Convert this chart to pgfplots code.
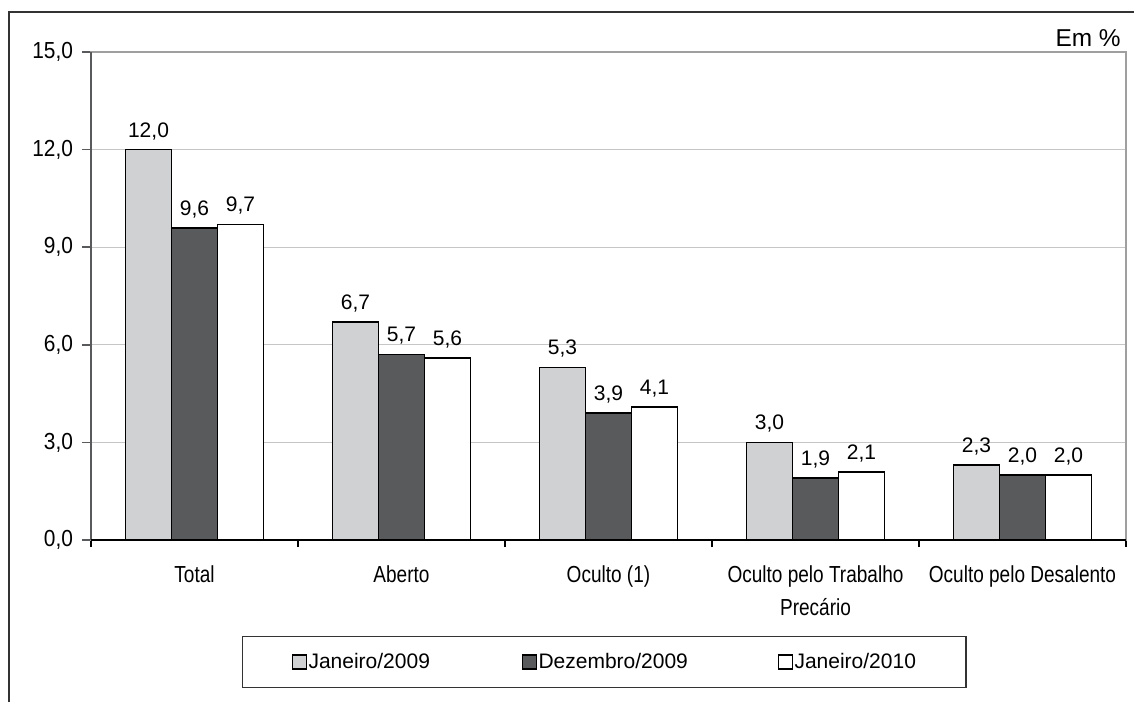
\documentclass[border=0pt]{standalone}
\usepackage{fontspec}
\setmainfont{Liberation Sans}
\newfontfamily\narrowfont{Liberation Sans}[FakeStretch=0.82]
\newfontfamily\semifont{Liberation Sans}[FakeStretch=0.9]
\usepackage{pgfplots}
\pgfplotsset{compat=1.18}
\definecolor{lg}{RGB}{208,209,211}
\definecolor{dg}{RGB}{89,90,92}
\pgfkeys{/pgf/number format/.cd, fixed, fixed zerofill, precision=1, use comma, assume math mode=true}
\newcommand{\catfont}{\narrowfont\fontsize{11.6}{16.5}\selectfont}
\newcommand{\yfont}{\semifont\fontsize{11.6}{13.9}\selectfont}
\newcommand{\lblfont}{\fontsize{10.5}{12.6}\selectfont}
\begin{document}
\begin{tikzpicture}
\useasboundingbox (0,0) rectangle (567pt,351pt);
\draw[line width=1pt, black!80] (4.5pt,0) -- (4.5pt,345pt) -- (567pt,345pt);
\begin{axis}[
  at={(45.5pt,81pt)}, anchor=south west,
  scale only axis, width=517.5pt, height=244pt,
  ybar=0pt, bar width=23pt,
  xmin=-0.5, xmax=4.5, ymin=0, ymax=15,
  ytick={0,3,6,9,12,15},
  xtick={0,1,2,3,4},
  xticklabels={Total, Aberto, Oculto (1), {Oculto pelo Trabalho\\Precário}, Oculto pelo Desalento},
  minor xtick={-0.5,0.5,1.5,2.5,3.5,4.5},
  tick pos=left,
  tick align=outside,
  major tick length=4.5pt,
  minor tick length=3.5pt,
  major x tick style={draw=none},
  minor x tick style={draw=black, line width=0.75pt},
  ytick style={draw=dg, line width=0.75pt},
  xticklabel style={font=\catfont, align=center, text depth=0pt, yshift=-5pt},
  yticklabel style={font=\yfont, xshift=-1pt},
  axis line style={draw=gray!75, line width=0.75pt},
  ymajorgrids, major grid style={draw=gray!45, line width=0.6pt},
  nodes near coords,
  every node near coord/.append style={font=\lblfont, text=black, inner sep=0pt, yshift=4.5pt},
  clip=false,
  legend columns=3,
  legend style={at={(0.4957,-0.25)}, anchor=center, draw=black!80, line width=0.6pt,
    font=\lblfont, inner xsep=25pt, inner ysep=8pt,
    nodes={inner sep=0pt}},
  legend image code/.code={\draw[#1, line width=0.6pt] (0pt,-3.5pt) rectangle (7pt,3.5pt);},
]
\addplot[fill=lg, draw=black, line width=0.9pt] coordinates {(0,12.0) (1,6.7) (2,5.3) (3,3.0) (4,2.3)};
\addplot[fill=dg, draw=black, line width=0.9pt] coordinates {(0,9.6) (1,5.7) (2,3.9) (3,1.9) (4,2.0)};
\addplot[fill=white, draw=black, line width=0.9pt] coordinates {(0,9.7) (1,5.6) (2,4.1) (3,2.1) (4,2.0)};
\legend{\makebox[107.4pt][l]{\hspace{0.6pt}Janeiro/2009}, \makebox[120.4pt][l]{\hspace{0.6pt}Dezembro/2009}, \hspace{0.6pt}Janeiro/2010}
\draw[dg, line width=0.75pt] (rel axis cs:0,0) -- (rel axis cs:0,1);
\draw[black, line width=1pt] (rel axis cs:0,0) -- (rel axis cs:1,0);
\node[anchor=base east, font=\fontsize{12.2}{14}\selectfont, inner sep=0pt] at ([xshift=-2.5pt,yshift=2.5pt]rel axis cs:1,1) {Em \%};
\end{axis}
\end{tikzpicture}
\end{document}
